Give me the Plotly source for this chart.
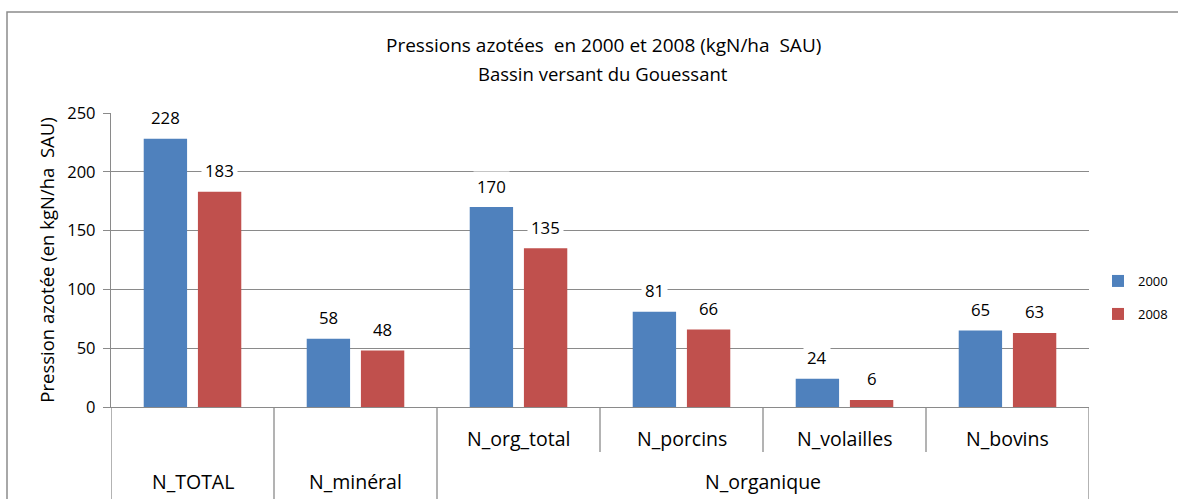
import plotly.graph_objects as go

categories = ["N_TOTAL", "N_minéral", "N_org_total", "N_porcins", "N_volailles", "N_bovins"]
group_label = "N_organique"
series_names = ["2000", "2008"]
values_2000 = [228, 58, 170, 81, 24, 65]
values_2008 = [183, 48, 135, 66, 6, 63]
y_ticks = [0, 50, 100, 150, 200, 250]
title_lines = ["Pressions azotées  en 2000 et 2008 (kgN/ha  SAU)", "Bassin versant du Gouessant"]
y_title = "Pression azotée (en kgN/ha  SAU)"

FONT = "Open Sans"
GRID = "#8a8a8a"
BLUE = "#4F81BD"
RED = "#C0504D"
BARGAP = 0.335
GROUPGAP = 0.2

L, R, T, B = 111, 1089, 113, 407
W = R - L
H = B - T

def px_y(Y):
    return (B - Y) / H

def px_x(X):
    return (X - L) / W

fig = go.Figure()
fig.add_trace(go.Bar(x=categories, y=values_2000, name=series_names[0], showlegend=True,
                     marker=dict(color=BLUE, line=dict(width=0)), legend="legend"))
fig.add_trace(go.Bar(x=categories, y=values_2008, name=series_names[1], showlegend=True,
                     marker=dict(color=RED, line=dict(width=0)), legend="legend2"))

annotations = []
off = (1 - BARGAP) / 4
for i, (a, b) in enumerate(zip(values_2000, values_2008)):
    for val, dx in ((a, -off), (b, off)):
        annotations.append(dict(x=i + dx, y=val, xref="x", yref="y", text=str(val),
                                showarrow=False, yanchor="middle", yshift=21,
                                bgcolor="white", borderpad=3,
                                font=dict(family=FONT, size=16.8, color="#000")))

# category labels
inner_y = px_y(438)
outer_y = px_y(481)
for i, c in enumerate(categories):
    yy = outer_y if i < 2 else inner_y
    annotations.append(dict(x=i, y=yy, xref="x", yref="paper", text=c, showarrow=False,
                            yanchor="middle", font=dict(family=FONT, size=19.5, color="#000")))
annotations.append(dict(x=3.5, y=outer_y, xref="x", yref="paper", text=group_label,
                        showarrow=False, yanchor="middle",
                        font=dict(family=FONT, size=19.5, color="#000")))

# title lines
for txt, yy, fs in zip(title_lines, (45, 73), (19, 18.5)):
    annotations.append(dict(x=px_x(603), y=px_y(yy), xref="paper", yref="paper", text=txt,
                            showarrow=False, xanchor="center", yanchor="middle",
                            font=dict(family=FONT, size=fs, color="#000")))

shapes = []
full_bottom = px_y(505)
short_bottom = px_y(452)
for k in range(len(categories) + 1):
    xb = k - 0.5
    bottom = short_bottom if k in (3, 4, 5) else full_bottom
    shapes.append(dict(type="line", xref="x", yref="paper", x0=xb, x1=xb, y0=0, y1=bottom,
                       line=dict(color=GRID, width=1.3)))
# chart border
shapes.append(dict(type="rect", xref="paper", yref="paper",
                   x0=px_x(7), x1=px_x(1195), y0=px_y(520), y1=px_y(12),
                   line=dict(color="#8c8c8c", width=1.5), fillcolor="rgba(0,0,0,0)", layer="below"))

legend_common = dict(xanchor="left", yanchor="middle", itemwidth=30,
                     font=dict(family=FONT, size=13, color="#000"), bgcolor="rgba(0,0,0,0)")

fig.update_layout(
    width=1178, height=499, showlegend=True,
    margin=dict(l=L, r=1178 - R, t=T, b=499 - B, autoexpand=False),
    paper_bgcolor="white", plot_bgcolor="white",
    barmode="group", bargap=BARGAP, bargroupgap=GROUPGAP,
    xaxis=dict(type="category", showticklabels=False, showgrid=False, showline=True,
               linecolor=GRID, linewidth=1.3, ticks="", range=[-0.5, 5.5], fixedrange=True),
    yaxis=dict(range=[0, 250], tickvals=y_ticks, showgrid=True, gridcolor=GRID, gridwidth=1.3,
               showline=True, linecolor=GRID, linewidth=1.3, ticks="outside", ticklen=7,
               tickcolor=GRID, tickwidth=1.3, ticklabelstandoff=4, zeroline=False,
               tickfont=dict(family=FONT, size=16.5, color="#000"),
               title=dict(text=y_title, standoff=7,
                          font=dict(family=FONT, size=18.5, color="#000"))),
    legend=dict(x=px_x(1098), y=px_y(281), **legend_common),
    legend2=dict(x=px_x(1098), y=px_y(314), **legend_common),
    annotations=annotations, shapes=shapes,
)

fig.write_html("out.html", post_script="document.body.style.margin='0px';",
               config={"displayModeBar": False})
